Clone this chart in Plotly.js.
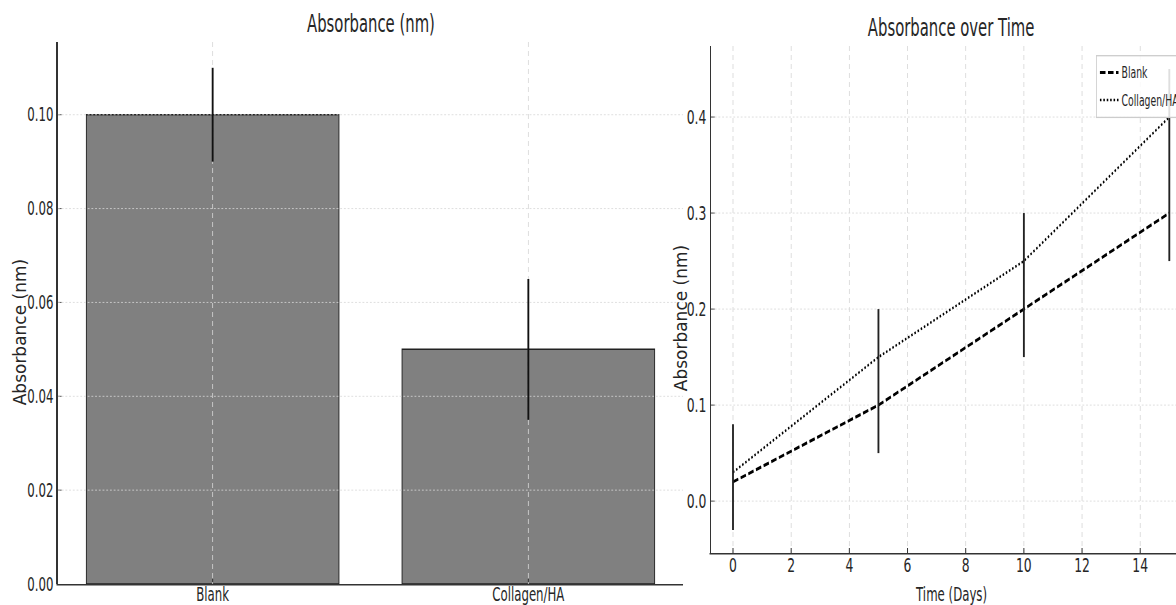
<!DOCTYPE html>
<html>
<head>
<meta charset="utf-8">
<script src="https://cdn.plot.ly/plotly-3.0.1.min.js"></script>
<style>
html,body{margin:0;padding:0;overflow:hidden;background:#fff;}
#wrap{position:relative;width:1176px;height:605px;overflow:hidden;}
#chart{position:absolute;left:0;top:0;width:1900px;height:605px;transform:scale(0.618947,1);transform-origin:0 0;}
</style>
</head>
<body>
<div id="wrap"><div id="chart"></div></div>
<script>
// ---- data ----
const barCats = ['Blank', 'Collagen/HA'];
const barMeans = [0.10, 0.05];
const barErr = [0.01, 0.015];

const days = [0, 5, 10, 15];
const blankSeries = [0.02, 0.10, 0.20, 0.30];
const collagenSeries = [0.03, 0.15, 0.25, 0.40];
const errCenter = [0.025, 0.125, 0.225, 0.35];
const errHalf = [0.055, 0.075, 0.075, 0.10];

const leftYTicks = [0.00, 0.02, 0.04, 0.06, 0.08, 0.10];
const rightYTicks = [0.0, 0.1, 0.2, 0.3, 0.4];
const dayTicks = [0, 2, 4, 6, 8, 10, 12, 14];

const titleLeft = 'Absorbance (nm)';
const titleRight = 'Absorbance over Time';
const yTitle = 'Absorbance (nm)';
const xTitleRight = 'Time (Days)';

// ---- style ----
const FONT = 'DejaVu Sans';
const TXT = '#262626';
const AX = '#333333';
const GRID = '#d6d6d6';
const SQ = 1176 / 1900;

const traces = [
  {type:'bar', x:barCats, y:barMeans, xaxis:'x', yaxis:'y', width:0.8,
   marker:{color:'#808080', line:{color:'#222222', width:1.5}}, showlegend:false, hoverinfo:'skip'},
  {type:'scatter', mode:'markers', x:barCats, y:barMeans, xaxis:'x3', yaxis:'y3',
   marker:{size:1, color:'rgba(0,0,0,0)'}, showlegend:false, hoverinfo:'skip',
   error_y:{type:'data', array:barErr, visible:true, color:'#111111', thickness:3, width:0}},
  {type:'scatter', mode:'lines', name:'Blank', x:days, y:blankSeries, xaxis:'x2', yaxis:'y2',
   line:{color:'#000000', width:3, dash:'9px,4px'}, legendgroup:'a', hoverinfo:'skip'},
  {type:'scatter', mode:'lines', name:'Collagen/HA', x:days, y:collagenSeries, xaxis:'x2', yaxis:'y2',
   line:{color:'#000000', width:2.5, dash:'2.5px,3px'}, legendgroup:'b', hoverinfo:'skip'},
  {type:'scatter', mode:'markers', x:days, y:errCenter, xaxis:'x2', yaxis:'y2',
   marker:{size:1, color:'rgba(0,0,0,0)'}, showlegend:false, hoverinfo:'skip',
   error_y:{type:'data', array:errHalf, visible:true, color:'#222222', thickness:3, width:0}}
];

const tickFont = {family:FONT, size:19, color:TXT};
const tickFontR = {family:FONT, size:20, color:TXT};
const leftXDom = [0.0493, 0.5808];
const leftYDom = [0.0347, 0.9306];
const vDash = '5px,4px';

const layout = {
  width:1900, height:605, autosize:false,
  margin:{l:0, r:0, t:0, b:0, pad:0, autoexpand:false},
  paper_bgcolor:'#ffffff', plot_bgcolor:'rgba(0,0,0,0)',
  showlegend:true,
  xaxis:{domain:leftXDom, anchor:'y', type:'category', categoryarray:barCats, range:[-0.49, 1.49],
    showline:true, linecolor:AX, linewidth:1.5, ticks:'inside', ticklen:5, tickwidth:1.6, tickcolor:AX,
    showgrid:false, zeroline:false, tickfont:tickFont, ticklabelstandoff:-7, fixedrange:true, automargin:false},
  yaxis:{domain:leftYDom, anchor:'x', range:[0, 0.1155], tickvals:leftYTicks, tickformat:'.2f',
    showline:true, linecolor:AX, linewidth:2.4, ticks:'inside', ticklen:6, tickwidth:1, tickcolor:AX,
    showgrid:false, zeroline:false, tickfont:tickFont, ticklabelstandoff:1, fixedrange:true, automargin:false},
  xaxis3:{domain:leftXDom, anchor:'y3', type:'category', categoryarray:barCats, range:[-0.49, 1.49],
    showline:false, showticklabels:false, ticks:'', showgrid:true, gridcolor:GRID, gridwidth:1.3,
    griddash:vDash, zeroline:false, fixedrange:true},
  yaxis3:{domain:leftYDom, anchor:'x3', range:[0, 0.1155], tickvals:leftYTicks.filter(v => v > 0),
    showline:false, showticklabels:false, ticks:'', showgrid:true, gridcolor:GRID, gridwidth:1,
    griddash:'dot', zeroline:false, fixedrange:true},
  xaxis2:{domain:[0.6046, 1], anchor:'y2', range:[-0.756, 15.23], tickvals:dayTicks,
    showline:true, linecolor:AX, linewidth:1.5, ticks:'inside', ticklen:5, tickwidth:1.6, tickcolor:AX,
    showgrid:true, gridcolor:GRID, gridwidth:1.3, griddash:vDash, zeroline:false,
    tickfont:tickFontR, ticklabelstandoff:-6, fixedrange:true, automargin:false},
  yaxis2:{domain:[0.086, 0.924], anchor:'x2', range:[-0.054, 0.474], tickvals:rightYTicks, tickformat:'.1f',
    showline:true, linecolor:AX, linewidth:2.4, ticks:'inside', ticklen:6, tickwidth:1, tickcolor:AX,
    showgrid:true, gridcolor:GRID, gridwidth:1, griddash:'dot', zeroline:false,
    tickfont:tickFontR, ticklabelstandoff:1, fixedrange:true, automargin:false},
  legend:{x:0.932, y:0.909, xanchor:'left', yanchor:'top', traceorder:'grouped', tracegroupgap:5,
    font:{family:FONT, size:15, color:TXT}, bgcolor:'rgba(255,255,255,0.85)', bordercolor:'#cccccc', borderwidth:1.3},
  annotations:[
    {text:titleLeft, xref:'paper', yref:'paper', x:0.3155, y:1 - 24/605, xanchor:'center', yanchor:'middle',
     showarrow:false, font:{family:FONT, size:24, color:TXT}},
    {text:titleRight, xref:'paper', yref:'paper', x:0.8087, y:1 - 28/605, xanchor:'center', yanchor:'middle',
     showarrow:false, font:{family:FONT, size:24, color:TXT}},
    {text:yTitle, xref:'paper', yref:'paper', x:20/1176, y:1 - 332/605, xanchor:'center', yanchor:'middle',
     textangle:-90, showarrow:false, font:{family:FONT, size:17, color:TXT}},
    {text:yTitle, xref:'paper', yref:'paper', x:681/1176, y:1 - 318/605, xanchor:'center', yanchor:'middle',
     textangle:-90, showarrow:false, font:{family:FONT, size:17, color:TXT}},
    {text:xTitleRight, xref:'paper', yref:'paper', x:0.8087, y:1 - 594/605, xanchor:'center', yanchor:'middle',
     showarrow:false, font:{family:FONT, size:19, color:TXT}}
  ]
};

Plotly.newPlot('chart', traces, layout, {staticPlot:true, displayModeBar:false}).then(function (gd) {
  // the rotated axis titles keep their natural glyph width on screen
  gd.querySelectorAll('g.annotation').forEach(function (g) {
    const idx = g.getAttribute('data-index');
    if (idx === '2' || idx === '3') {
      const b = g.getBBox();
      const cx = b.x + b.width / 2, cy = b.y + b.height / 2;
      g.setAttribute('transform',
        'translate(' + cx + ',' + cy + ') scale(' + (1 / SQ) + ',1) translate(' + (-cx) + ',' + (-cy) + ')');
    }
  });
});
</script>
</body>
</html>
